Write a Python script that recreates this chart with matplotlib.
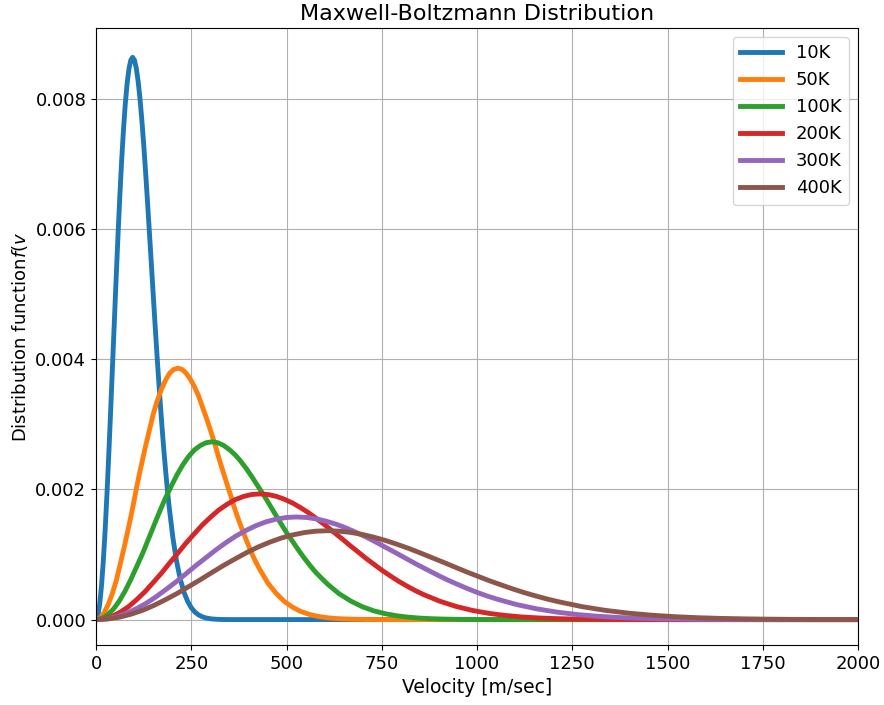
import matplotlib

matplotlib.use("Agg")
import matplotlib.pyplot as plt

# values, velocity in m/s, f(v) in s/m
v_10k = [0, 4.8, 9.6, 14.4, 19.2, 24.0, 28.8, 33.6, 38.4, 43.2, 48.1, 52.9, 57.7, 62.5, 67.3, 72.1,
         76.9, 81.7, 86.5, 91.3, 96.1, 100.9, 105.7, 110.5, 115.3, 120.1, 124.9, 129.7, 134.5, 139.3,
         144.2, 149.0, 153.8, 158.6, 163.4, 168.2, 173.0, 177.8, 182.6, 187.4, 192.2,
         201.8, 211.4, 221.0, 230.6, 240.3, 249.9, 259.5, 269.1, 278.7, 288.3, 302.7, 317.1, 331.5,
         346.0, 2000]
f_10k = [0, 0.0000586, 0.0002325, 0.0005166, 0.0009025, 0.0013788, 0.0019317, 0.0025451, 0.0032019,
         0.0038838, 0.0045723, 0.0052496, 0.0058983, 0.0065030, 0.0070496, 0.0075266, 0.0079251,
         0.0082383, 0.0084621, 0.0085953, 0.0086393, 0.0085969, 0.0084734, 0.0082759, 0.0080122,
         0.0076914, 0.0073232, 0.0069173, 0.0064835, 0.0060312, 0.0055692, 0.0051055, 0.0046475,
         0.0042012, 0.0037719, 0.0033637, 0.0029799, 0.0026226, 0.0022934, 0.0019927, 0.0017205,
         0.0012588, 0.0008987, 0.0006263, 0.0004262, 0.0002834, 0.0001840, 0.0001168, 0.0000725,
         0.0000440, 0.0000261, 0.0000114, 0.0000048, 0.0000019, 0.0000007, 0.0]

v_50k = [0, 11, 21, 32, 43, 54, 64, 75, 86, 97, 107, 118, 129, 140, 150, 161, 172, 183, 193, 204,
         215, 226, 236, 247, 258, 269, 279, 290, 301, 312, 322, 333, 344, 355, 365, 376, 387, 398,
         408, 419, 430, 451, 473, 494, 516, 537, 559, 580, 602, 623, 645, 677, 709, 741, 774, 2000]
f_50k = [0, 0.0000262, 0.0001040, 0.0002310, 0.0004036, 0.0006166, 0.0008638, 0.0011382, 0.0014319,
         0.0017368, 0.0020447, 0.0023476, 0.0026377, 0.0029081, 0.0031526, 0.0033659, 0.0035441,
         0.0036841, 0.0037842, 0.0038438, 0.0038635, 0.0038445, 0.0037893, 0.0037009, 0.0035830,
         0.0034396, 0.0032749, 0.0030934, 0.0028994, 0.0026971, 0.0024905, 0.0022832, 0.0020783,
         0.0018788, 0.0016868, 0.0015042, 0.0013326, 0.0011728, 0.0010256, 0.0008911, 0.0007694,
         0.0005629, 0.0004019, 0.0002801, 0.0001906, 0.0001267, 0.0000823, 0.0000522, 0.0000324,
         0.0000197, 0.0000117, 0.0000051, 0.0000021, 0.0000008, 0.0000003, 0.0]

v_100k = [0, 15, 30, 46, 61, 76, 91, 106, 122, 137, 152, 167, 182, 198, 213, 228, 243, 258, 274, 289,
          304, 319, 334, 349, 365, 380, 395, 410, 425, 441, 456, 471, 486, 501, 517, 532, 547, 562,
          577, 593, 608, 638, 669, 699, 729, 760, 790, 821, 851, 881, 912, 957, 1003, 1048, 1094, 2000]
f_100k = [0, 0.0000185, 0.0000735, 0.0001634, 0.0002854, 0.0004360, 0.0006108, 0.0008048, 0.0010125,
          0.0012281, 0.0014459, 0.0016600, 0.0018652, 0.0020564, 0.0022292, 0.0023801, 0.0025061,
          0.0026051, 0.0026759, 0.0027180, 0.0027319, 0.0027185, 0.0026795, 0.0026170, 0.0025336,
          0.0024322, 0.0023158, 0.0021874, 0.0020502, 0.0019072, 0.0017611, 0.0016145, 0.0014696,
          0.0013285, 0.0011927, 0.0010637, 0.0009423, 0.0008293, 0.0007252, 0.0006301, 0.0005441,
          0.0003981, 0.0002842, 0.0001981, 0.0001348, 0.0000896, 0.0000582, 0.0000369, 0.0000229,
          0.0000139, 0.0000083, 0.0000036, 0.0000015, 0.0000006, 0.0000002, 0.0]

v_200k = [0, 21, 43, 64, 86, 107, 129, 150, 172, 193, 215, 236, 258, 279, 301, 322, 344, 365, 387,
          408, 430, 451, 473, 494, 516, 537, 559, 580, 602, 623, 645, 666, 688, 709, 731, 752, 774,
          795, 817, 838, 860, 903, 946, 989, 1032, 1075, 1117, 1160, 1203, 1246, 1289, 1354, 1418,
          1483, 1547, 2000]
f_200k = [0, 0.0000131, 0.0000520, 0.0001155, 0.0002018, 0.0003083, 0.0004319, 0.0005691, 0.0007159,
          0.0008684, 0.0010223, 0.0011738, 0.0013188, 0.0014540, 0.0015762, 0.0016829, 0.0017720,
          0.0018420, 0.0018921, 0.0019218, 0.0019317, 0.0019222, 0.0018946, 0.0018504, 0.0017914,
          0.0017197, 0.0016374, 0.0015466, 0.0014497, 0.0013485, 0.0012452, 0.0011416, 0.0010391,
          0.0009394, 0.0008434, 0.0007521, 0.0006663, 0.0005864, 0.0005128, 0.0004455, 0.0003847,
          0.0002815, 0.0002009, 0.0001400, 0.0000953, 0.0000634, 0.0000411, 0.0000261, 0.0000162,
          0.0000098, 0.0000058, 0.0000026, 0.0000011, 0.0000004, 0.0000002, 0.0]

v_300k = [0, 26, 53, 79, 105, 132, 158, 184, 211, 237, 263, 290, 316, 342, 368, 395, 421, 447, 474,
          500, 526, 553, 579, 605, 632, 658, 684, 711, 737, 763, 790, 816, 842, 869, 895, 921, 948,
          974, 1000, 1026, 1053, 1105, 1158, 1211, 1263, 1316, 1369, 1421, 1474, 1527, 1579, 1658,
          1737, 1816, 1895, 2000]
f_300k = [0, 0.0000107, 0.0000424, 0.0000943, 0.0001648, 0.0002517, 0.0003526, 0.0004646, 0.0005845,
          0.0007090, 0.0008347, 0.0009584, 0.0010768, 0.0011872, 0.0012870, 0.0013740, 0.0014468,
          0.0015040, 0.0015448, 0.0015692, 0.0015772, 0.0015694, 0.0015469, 0.0015108, 0.0014627,
          0.0014041, 0.0013369, 0.0012628, 0.0011836, 0.0011010, 0.0010167, 0.0009321, 0.0008484,
          0.0007670, 0.0006886, 0.0006141, 0.0005440, 0.0004788, 0.0004187, 0.0003638, 0.0003141,
          0.0002298, 0.0001641, 0.0001143, 0.0000778, 0.0000517, 0.0000336, 0.0000213, 0.0000132,
          0.0000080, 0.0000048, 0.0000021, 0.0000009, 0.0000003, 0.0000001, 0.0]

v_400k = [0, 30, 61, 91, 122, 152, 182, 213, 243, 274, 304, 334, 365, 395, 425, 456, 486, 517, 547,
          577, 608, 638, 669, 699, 729, 760, 790, 821, 851, 881, 912, 942, 972, 1003, 1033, 1064,
          1094, 1124, 1155, 1185, 1216, 1276, 1337, 1398, 1459, 1520, 1580, 1641, 1702, 1763, 1823,
          1915, 2000]
f_400k = [0, 0.0000093, 0.0000368, 0.0000817, 0.0001427, 0.0002180, 0.0003054, 0.0004024, 0.0005063,
          0.0006141, 0.0007229, 0.0008300, 0.0009326, 0.0010282, 0.0011146, 0.0011901, 0.0012531,
          0.0013026, 0.0013380, 0.0013590, 0.0013660, 0.0013593, 0.0013397, 0.0013085, 0.0012668,
          0.0012161, 0.0011579, 0.0010937, 0.0010251, 0.0009536, 0.0008806, 0.0008072, 0.0007348,
          0.0006643, 0.0005964, 0.0005318, 0.0004712, 0.0004147, 0.0003626, 0.0003151, 0.0002720,
          0.0001990, 0.0001421, 0.0000990, 0.0000674, 0.0000448, 0.0000291, 0.0000185, 0.0000115,
          0.0000070, 0.0000041, 0.0000018, 0.0000008]

labels = ["10K", "50K", "100K", "200K", "300K", "400K"]
series = [(v_10k, f_10k), (v_50k, f_50k), (v_100k, f_100k),
          (v_200k, f_200k), (v_300k, f_300k), (v_400k, f_400k)]

fig = plt.figure(figsize=(8.84, 7.05), dpi=100)
ax = fig.add_axes([0.1086, 0.0851, 0.862, 0.8752])

for (v, f), lab in zip(series, labels):
    ax.plot(v, f, lw=3.5, label=lab)

ax.set_xlim(0, 2000)
ax.set_ylim(-0.00039, 0.00909)
ax.set_yticks([0, 0.002, 0.004, 0.006, 0.008])
ax.tick_params(labelsize=13)
ax.grid(True)
ax.set_title("Maxwell-Boltzmann Distribution", fontsize=16)
ax.set_xlabel("Velocity [m/sec]", fontsize=13.5)
ax.set_ylabel("Distribution function$f(v$", fontsize=13)
ax.legend(fontsize=13, loc="upper right", handlelength=2.3)

fig.savefig("out.png", dpi=100)
